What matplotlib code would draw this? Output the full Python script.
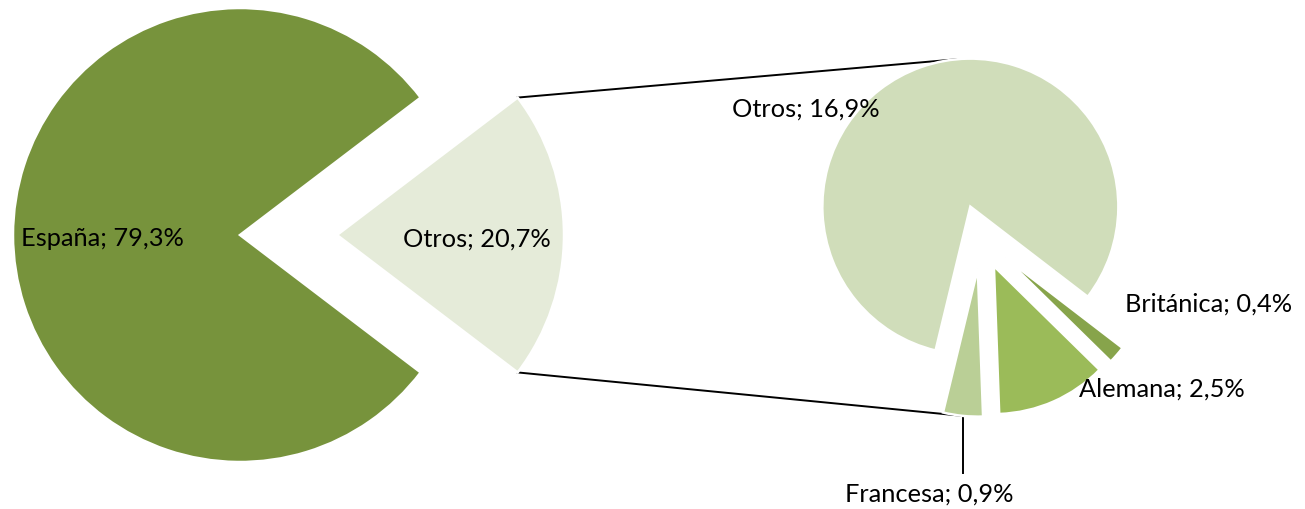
import matplotlib
matplotlib.use("Agg")
import matplotlib.pyplot as plt
import numpy as np

# ---- data ----
main_labels = ["España", "Otros"]
main_values = [79.3, 20.7]
sub_labels = ["Otros", "Británica", "Alemana", "Francesa"]
sub_values = [16.9, 0.4, 2.5, 0.9]

main_colors = ["#77933C", "#E5EBD9"]
sub_colors = ["#D0DDBA", "#87A44B", "#9BBB59", "#BACF96"]

W, H = 1305, 510
fig = plt.figure(figsize=(W / 100, H / 100), dpi=100)
ax = fig.add_axes([0, 0, 1, 1])

FONT = ["Lato", "DejaVu Sans"]
FS = 18.3

def fmt(lbl, v):
    return f"{lbl}; {v:.1f}%".replace(".", ",")

# left pie
c1 = (240, H - 236)
r1 = 227
d1 = 97
start1 = 360 * main_values[1] / sum(main_values) / 2
w1, _ = ax.pie(main_values, colors=main_colors, startangle=start1,
               counterclock=True, radius=r1, center=c1,
               explode=[0, d1],
               wedgeprops=dict(edgecolor="white", linewidth=1.8))

# right pie
c2 = (981, H - 237.8)
r2 = 148
d2 = 32
start2 = 256.4
w2, _ = ax.pie(sub_values, colors=sub_colors, startangle=start2,
               counterclock=False, radius=r2, center=c2,
               explode=[d2] * len(sub_values),
               wedgeprops=dict(edgecolor="white", linewidth=1.8))

# connector lines (from wedge geometry)
ow = w1[1]
ocx, ocy = ow.center
a1, a2 = np.deg2rad(ow.theta1), np.deg2rad(ow.theta2)
p_top_l = (ocx + ow.r * np.cos(a2), ocy + ow.r * np.sin(a2))
p_bot_l = (ocx + ow.r * np.cos(a1), ocy + ow.r * np.sin(a1))

rw = w2[0]
rcx, rcy = rw.center
at = np.deg2rad(95)
p_top_r = (rcx + rw.r * np.cos(at), rcy + rw.r * np.sin(at))

fw = w2[3]
fcx, fcy = fw.center
am = np.deg2rad((fw.theta1 + fw.theta2) / 2)
p_bot_r = (fcx + fw.r * np.cos(am), fcy + fw.r * np.sin(am))

ax.plot([p_top_l[0], p_top_r[0]], [p_top_l[1], p_top_r[1]], color="black", lw=1.4, zorder=0)
ax.plot([p_bot_l[0], p_bot_r[0]], [p_bot_l[1], p_bot_r[1]], color="black", lw=1.4, zorder=0)
# leader for Francesa
ax.plot([p_bot_r[0], p_bot_r[0]], [p_bot_r[1], H - 474], color="black", lw=1.4, zorder=0)

# labels (centre x, baseline y in image coords)
lab_pos_main = [(102, 246), (477, 246.5)]
lab_pos_sub = [(806, 116.5), (1209, 311.5), (1162, 396.5), (929, 501.5)]
for lbl, v, (x, y) in zip(main_labels, main_values, lab_pos_main):
    ax.text(x, H - y, fmt(lbl, v), ha="center", va="baseline",
            fontsize=FS, family=FONT, color="black")
for lbl, v, (x, y) in zip(sub_labels, sub_values, lab_pos_sub):
    ax.text(x, H - y, fmt(lbl, v), ha="center", va="baseline",
            fontsize=FS, family=FONT, color="black")

ax.set_xlim(0, W)
ax.set_ylim(0, H)
ax.set_aspect("equal")
ax.axis("off")
fig.savefig("out.png", dpi=100, facecolor="white")
